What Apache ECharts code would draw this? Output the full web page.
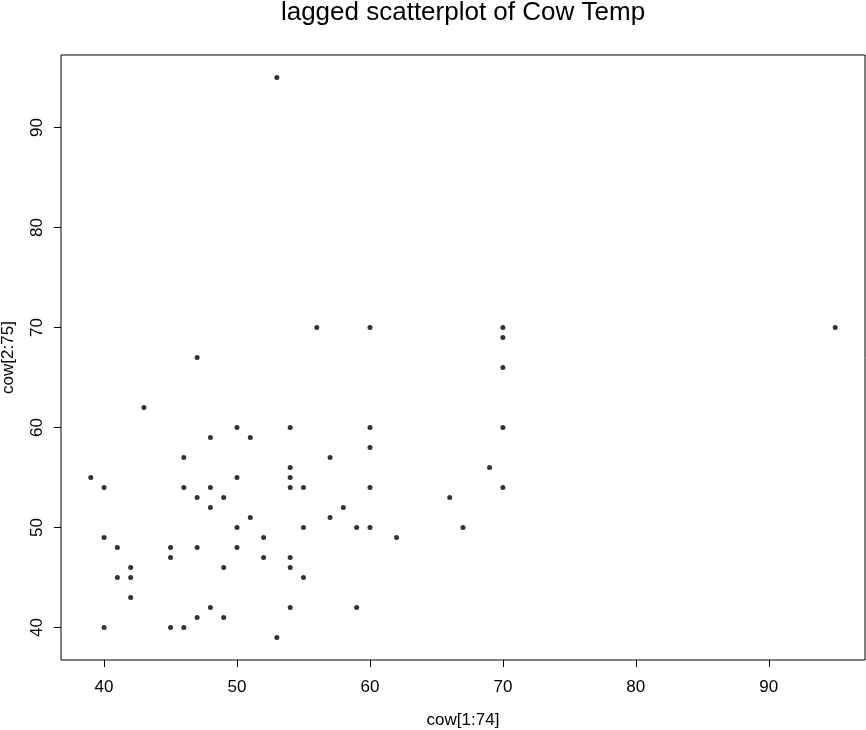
<!DOCTYPE html>
<html>
<head>
<meta charset="utf-8">
<script src="https://cdn.jsdelivr.net/npm/echarts@6/dist/echarts.min.js"></script>
<style>
  html, body { margin: 0; padding: 0; background: #fff; }
  #chart { width: 866px; height: 730px; }
</style>
</head>
<body>
<div id="chart"></div>
<script>
// cow[1:74] on x, cow[2:75] on y (visible points, overlaps drawn once)
const lagX = [53, 95, 56, 60, 70, 70, 70, 47, 43, 70, 50, 54, 60, 51, 48, 60, 46, 57, 69, 54,
  39, 50, 54, 40, 46, 48, 54, 55, 60, 70, 47, 49, 66, 48, 58, 51, 57, 50, 55, 59,
  60, 67, 40, 52, 62, 41, 45, 47, 50, 45, 52, 54, 42, 49, 54, 41, 42, 55, 42, 48,
  54, 59, 47, 49, 45, 46, 40, 53]
const lagY = [95, 70, 70, 70, 70, 69, 66, 67, 62, 60, 60, 60, 60, 59, 59, 58, 57, 57, 56, 56,
  55, 55, 55, 54, 54, 54, 54, 54, 54, 54, 53, 53, 53, 52, 52, 51, 51, 50, 50, 50,
  50, 50, 49, 49, 49, 48, 48, 48, 48, 47, 47, 47, 46, 46, 46, 45, 45, 45, 43, 42,
  42, 42, 41, 41, 40, 40, 40, 39]
const ticks = [40, 50, 60, 70, 80, 90]
const axisMin = 36.76
const axisMax = 97.24

const font = 'Liberation Sans, Arial, Helvetica, sans-serif'

const chart = echarts.init(document.getElementById('chart'))

const axisCommon = {
  type: 'value',
  min: axisMin,
  max: axisMax,
  nameLocation: 'middle',
  nameTextStyle: { color: '#000', fontSize: 17, fontFamily: font },
  axisLine: { show: false },
  splitLine: { show: false },
  axisTick: {
    show: true,
    length: 7,
    customValues: ticks,
    lineStyle: { color: '#000', width: 1 }
  },
  axisLabel: {
    customValues: ticks,
    color: '#000',
    fontSize: 17,
    fontFamily: font
  }
}

chart.setOption({
  animation: false,
  backgroundColor: '#fff',
  title: {
    text: 'lagged scatterplot of Cow Temp',
    left: 463,
    textAlign: 'center',
    top: 0,
    padding: 0,
    textStyle: { color: '#000', fontSize: 26, fontWeight: 'normal', fontFamily: font }
  },
  grid: {
    left: 61,
    right: 1,
    top: 55,
    bottom: 70,
    outerBoundsMode: 'none',
    containLabel: false,
    show: true,
    borderColor: '#000',
    borderWidth: 1
  },
  xAxis: Object.assign({}, axisCommon, {
    name: 'cow[1:74]',
    nameGap: 52,
    axisLabel: Object.assign({}, axisCommon.axisLabel, { margin: 19 })
  }),
  yAxis: Object.assign({}, axisCommon, {
    name: 'cow[2:75]',
    nameGap: 44,
    nameRotate: 90,
    axisLabel: Object.assign({}, axisCommon.axisLabel, { rotate: 90, margin: 15 })
  }),
  series: [{
    type: 'scatter',
    symbol: 'circle',
    symbolSize: 5,
    itemStyle: { color: '#000' },
    data: lagX.map((x, i) => [x, lagY[i]])
  }]
})
</script>
</body>
</html>
